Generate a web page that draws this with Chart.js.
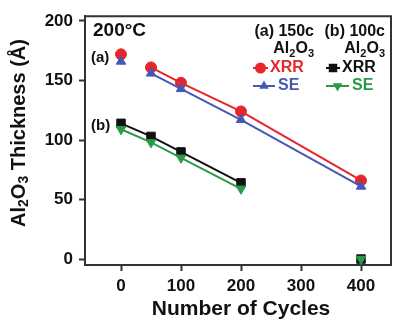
<!DOCTYPE html>
<html>
<head>
<meta charset="utf-8">
<script src="https://cdn.jsdelivr.net/npm/chart.js@4"></script>
<style>
  html, body { margin: 0; padding: 0; background: #fff; }
  #wrap { width: 398px; height: 320px; position: relative; }
</style>
</head>
<body>
<div id="wrap"><canvas id="c"></canvas></div>
<script>
// values
const cycles   = [0, 50, 100, 200, 400];
const a150XRR  = [172, 161, 148, 124, 66];
const a150SE   = [166, 156, 143, 117, 61];
const b100XRR  = [114, 103, 90, 64, 0];
const b100SE   = [109, 98, 85, 59, 0];
const xTicks   = [0, 100, 200, 300, 400];
const yTicks   = [0, 50, 100, 150, 200];

const RED = "#e5262c", BLUE = "#4658b4", BLACK = "#111111", GREEN = "#2b9a48";
const FONT = "'Liberation Sans', Arial, sans-serif";

const pts = ys => cycles.map((x, i) => ({ x, y: ys[i] }));

// (a) series: first point not joined; (b) series: last point not joined
const skipFirst = col => ({ borderColor: c => c.p0DataIndex === 0 ? "rgba(0,0,0,0)" : col });
const skipLast  = col => ({ borderColor: c => c.p1DataIndex === cycles.length - 1 ? "rgba(0,0,0,0)" : col });

function ds(label, ys, col, style, rot, seg) {
  return {
    label, data: pts(ys), borderColor: col, backgroundColor: col,
    pointBackgroundColor: col, pointBorderColor: col, pointBorderWidth: 1,
    pointStyle: style, pointRotation: rot, pointRadius: style === "rect" ? 6 : 5.5,
    borderWidth: 2, showLine: true, fill: false, segment: seg
  };
}

function marker(ctx, style, x, y, r, col) {
  ctx.save();
  ctx.fillStyle = col;
  ctx.beginPath();
  if (style === "circle") ctx.arc(x, y, r, 0, Math.PI * 2);
  else if (style === "rect") { const s = r * Math.SQRT1_2; ctx.rect(x - s, y - s, 2 * s, 2 * s); }
  else if (style === "up") { ctx.moveTo(x, y - r); ctx.lineTo(x + r * 0.866, y + r / 2); ctx.lineTo(x - r * 0.866, y + r / 2); }
  else { ctx.moveTo(x, y + r); ctx.lineTo(x + r * 0.866, y - r / 2); ctx.lineTo(x - r * 0.866, y - r / 2); }
  ctx.closePath();
  ctx.fill();
  ctx.restore();
}

// draws "Al2O3" style text with subscripts, returns width
function subText(ctx, parts, x, y, size, col, measureOnly) {
  let w = 0;
  for (const p of parts) {
    ctx.font = "bold " + (p.sub ? Math.round(size * 0.68) : size) + "px " + FONT;
    if (!measureOnly) {
      ctx.fillStyle = col;
      ctx.fillText(p.t, x + w, y + (p.sub ? size * 0.28 : 0));
    }
    w += ctx.measureText(p.t).width;
  }
  return w;
}
const AL2O3 = [{ t: "Al" }, { t: "2", sub: true }, { t: "O" }, { t: "3", sub: true }];

const decor = {
  id: "decor",
  afterDraw(chart) {
    const ctx = chart.ctx, a = chart.chartArea;
    ctx.save();
    // frame top + right
    ctx.strokeStyle = "#333"; ctx.lineWidth = 2;
    ctx.beginPath();
    ctx.moveTo(a.left, a.top); ctx.lineTo(a.right, a.top); ctx.lineTo(a.right, a.bottom);
    ctx.stroke();

    ctx.textBaseline = "middle"; ctx.textAlign = "left";
    ctx.fillStyle = "#111";
    ctx.font = "bold 19px " + FONT;
    ctx.fillText("200°C", 93, 31);
    ctx.font = "bold 15px " + FONT;
    ctx.fillText("(a)", 91, 58);
    ctx.fillText("(b)", 91, 126);

    // legend
    ctx.font = "bold 16px " + FONT;
    ctx.textAlign = "right";
    ctx.fillText("(a) 150c", 314, 32);
    ctx.fillText("(b) 100c", 385, 32);
    ctx.textAlign = "left";
    let w = subText(ctx, AL2O3, 0, 0, 16, "#111", true);
    subText(ctx, AL2O3, 314 - w, 49, 16, "#111");
    subText(ctx, AL2O3, 385 - w, 49, 16, "#111");

    const row = (x0, x1, y, col, style, label, tx) => {
      ctx.strokeStyle = col; ctx.lineWidth = 2;
      ctx.beginPath(); ctx.moveTo(x0, y); ctx.lineTo(x1, y); ctx.stroke();
      marker(ctx, style, (x0 + x1) / 2, y, style === "rect" ? 6 : 5.5, col);
      ctx.font = "bold 16px " + FONT; ctx.fillStyle = col;
      ctx.fillText(label, tx, y);
    };
    row(253, 268, 68, RED, "circle", "XRR", 270);
    row(253, 275, 86, BLUE, "up", "SE", 278);
    row(326, 340, 68, BLACK, "rect", "XRR", 342);
    row(326, 349, 86, GREEN, "down", "SE", 352);

    // axis titles
    ctx.fillStyle = "#111";
    ctx.textAlign = "center";
    ctx.font = "bold 21px " + FONT;
    ctx.fillText("Number of Cycles", 241, 309);

    const yParts = AL2O3.concat([{ t: " Thickness (Å)" }]);
    ctx.translate(19, 133);
    ctx.rotate(-Math.PI / 2);
    ctx.textAlign = "left";
    w = subText(ctx, yParts, 0, 0, 20, "#111", true);
    subText(ctx, yParts, -w / 2, 0, 20, "#111");
    ctx.restore();
  }
};

const axisCommon = {
  type: "linear",
  border: { display: true, color: "#333", width: 2 },
  grid: { display: true, drawOnChartArea: false, drawTicks: true, tickLength: 6, tickWidth: 2, tickColor: "#333" },
  ticks: { color: "#111", font: { family: FONT, size: 17, weight: "bold" } }
};

new Chart(document.getElementById("c"), {
  type: "line",
  data: {
    datasets: [
      ds("(a) SE", a150SE, BLUE, "triangle", 0, skipFirst(BLUE)),
      ds("(a) XRR", a150XRR, RED, "circle", 0, skipFirst(RED)),
      ds("(b) SE", b100SE, GREEN, "triangle", 180, skipLast(GREEN)),
      ds("(b) XRR", b100XRR, BLACK, "rect", 0, skipLast(BLACK))
    ]
  },
  options: {
    responsive: true,
    maintainAspectRatio: false,
    animation: false,
    layout: { padding: { top: 14, right: 6, left: 0, bottom: 0 } },
    plugins: { legend: { display: false }, tooltip: { enabled: false } },
    scales: {
      x: {
        ...axisCommon, min: -60, max: 450,
        ticks: { ...axisCommon.ticks, padding: 5, maxRotation: 0 },
        afterBuildTicks: s => { s.ticks = xTicks.map(v => ({ value: v })); },
        afterFit: s => { s.height = 55; }
      },
      y: {
        ...axisCommon, min: -5, max: 204,
        ticks: { ...axisCommon.ticks, padding: 6 },
        afterBuildTicks: s => { s.ticks = yTicks.map(v => ({ value: v })); },
        afterFit: s => { s.width = 85; }
      }
    }
  },
  plugins: [decor]
});
</script>
</body>
</html>
